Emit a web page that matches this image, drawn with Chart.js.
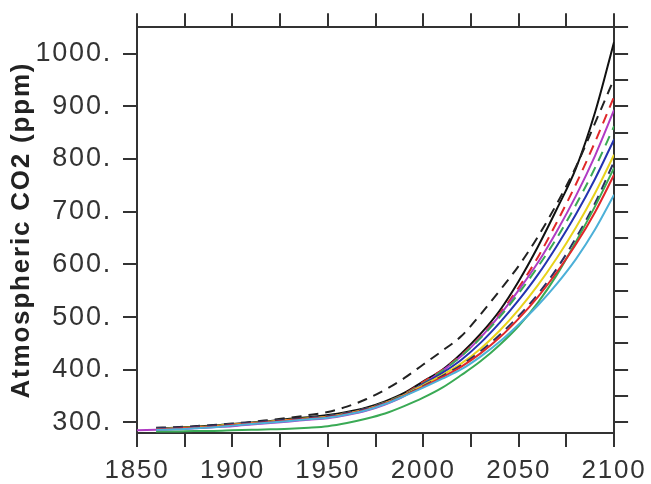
<!DOCTYPE html>
<html>
<head>
<meta charset="utf-8">
<script src="https://cdn.jsdelivr.net/npm/chart.js@4.4.1/dist/chart.umd.min.js"></script>
<style>
  body { margin: 0; background: #fff; }
  #wrap { width: 651px; height: 484px; }
</style>
</head>
<body>
<div id="wrap"><canvas id="co2Chart" width="651" height="484"></canvas></div>
<script>
// years sampled every decade
const years = [1850, 1860, 1870, 1880, 1890, 1900, 1910, 1920, 1930, 1940, 1950, 1960, 1970,
               1980, 1990, 2000, 2010, 2020, 2030, 2040, 2050, 2060, 2070, 2080, 2090, 2100];

// CO2 (ppm) per model run
const blackSolid  = [null, 289, 290, 292, 294, 297, 300, 303, 307, 310, 314, 320, 328, 340, 356, 378, 400, 431, 468, 512, 568, 633, 705, 782, 888, 1022];
const blackDashed = [null, 290, 291, 293, 295, 298, 301, 305, 309, 314, 320, 330, 344, 362, 384, 410, 436, 464, 505, 550, 597, 652, 715, 785, 868, 952];
const redDashed   = [null, 288, 289, 291, 293, 296, 299, 302, 305, 308, 312, 318, 326, 338, 354, 377, 400, 428, 463, 506, 556, 613, 680, 752, 832, 918];
const magenta     = [285, 286, 287, 289, 291, 293, 296, 299, 302, 305, 308, 314, 322, 334, 350, 373, 398, 426, 461, 503, 551, 603, 663, 730, 806, 893];
const greenDashed = [null, 288, 289, 291, 293, 296, 299, 302, 305, 308, 312, 318, 326, 338, 353, 374, 398, 426, 460, 500, 545, 595, 650, 713, 783, 862];
const blue        = [null, 288, 289, 290, 292, 295, 298, 301, 304, 307, 311, 317, 325, 337, 352, 373, 394, 419, 451, 489, 532, 580, 635, 695, 762, 837];
const yellow      = [null, 288, 289, 291, 293, 296, 299, 302, 305, 308, 311, 317, 325, 337, 352, 371, 390, 412, 440, 474, 514, 560, 612, 670, 735, 808];
const navyDashed  = [null, 289, 290, 292, 294, 297, 300, 303, 306, 309, 312, 318, 326, 337, 351, 369, 388, 409, 435, 466, 502, 543, 592, 650, 716, 795];
const green       = [null, 283, 283, 284, 284, 285, 286, 287, 288, 290, 293, 299, 307, 317, 331, 347, 366, 390, 416, 447, 483, 527, 580, 643, 710, 783];
const red         = [null, 287, 288, 290, 292, 295, 298, 301, 304, 307, 310, 316, 324, 336, 351, 368, 386, 406, 431, 461, 497, 538, 585, 638, 699, 770];
const cyan        = [null, 286, 287, 289, 291, 294, 297, 300, 303, 306, 309, 315, 323, 335, 350, 366, 383, 401, 425, 453, 486, 522, 563, 610, 666, 732];

const xTicks = [1850, 1900, 1950, 2000, 2050, 2100];
const yTicks = [300, 400, 500, 600, 700, 800, 900, 1000];

const toPts = arr => years.map((y, i) => ({ x: y, y: arr[i] }));

const line = (label, arr, color, dashed) => ({
  label: label,
  data: toPts(arr),
  borderColor: color,
  borderWidth: 2,
  borderDash: dashed ? [10, 7] : [],
  pointRadius: 0,
  fill: false,
  cubicInterpolationMode: 'monotone'
});

const axisColor = '#333';
const fam = 'Liberation Sans, Arial, sans-serif';

// wider letter spacing like the original plot font
const spacing = {
  id: 'spacing',
  beforeDraw: chart => { chart.ctx.letterSpacing = '1.8px'; },
  afterDraw: chart => { chart.ctx.letterSpacing = '0px'; }
};

const ctx = document.getElementById('co2Chart').getContext('2d');
let myChart = new Chart(ctx, {
  type: 'line',
  data: {
    datasets: [
      line('cyan', cyan, '#4cb0d8', false),
      line('red', red, '#e0282a', false),
      line('green', green, '#3aaa55', false),
      line('navy dashed', navyDashed, '#2a3060', true),
      line('yellow', yellow, '#e8d21c', false),
      line('blue', blue, '#2433b0', false),
      line('green dashed', greenDashed, '#3aaa55', true),
      line('magenta', magenta, '#b03cc4', false),
      line('red dashed', redDashed, '#e0282a', true),
      line('black dashed', blackDashed, '#222', true),
      line('black', blackSolid, '#111', false)
    ]
  },
  plugins: [spacing],
  options: {
    responsive: false,
    animation: false,
    layout: { padding: 0 },
    plugins: { legend: { display: false }, tooltip: { enabled: false } },
    scales: {
      x: {
        type: 'linear', position: 'bottom', min: 1850, max: 2100,
        ticks: {
          stepSize: 25, autoSkip: false, maxRotation: 0, padding: 8,
          font: { family: fam, size: 26 }, color: axisColor,
          callback: v => xTicks.includes(v) ? String(v) : ''
        },
        grid: { drawOnChartArea: false, tickLength: 14, color: axisColor, lineWidth: 2 },
        border: { color: axisColor, width: 2 },
        afterFit: s => { s.height = 51; }
      },
      xTop: {
        type: 'linear', position: 'top', min: 1850, max: 2100,
        ticks: { stepSize: 25, autoSkip: false, callback: () => '' },
        grid: { drawOnChartArea: false, tickLength: 14, color: axisColor, lineWidth: 2 },
        border: { color: axisColor, width: 2 },
        afterFit: s => { s.height = 27; }
      },
      y: {
        position: 'left', min: 280, max: 1050,
        ticks: {
          stepSize: 50, includeBounds: false, padding: 11,
          font: { family: fam, size: 27 }, color: axisColor,
          callback: v => yTicks.includes(v) ? v + '.' : ''
        },
        title: {
          display: true, text: 'Atmospheric CO2 (ppm)', color: '#222',
          font: { family: fam, size: 26, weight: 'bold' },
          padding: { top: 6, bottom: 0 }
        },
        grid: { drawOnChartArea: false, tickLength: 14, color: axisColor, lineWidth: 2 },
        border: { color: axisColor, width: 2 },
        afterFit: s => { s.width = 137; }
      },
      yRight: {
        position: 'right', min: 280, max: 1050,
        ticks: { stepSize: 50, includeBounds: false, callback: () => '' },
        grid: { drawOnChartArea: false, tickLength: 14, color: axisColor, lineWidth: 2 },
        border: { color: axisColor, width: 2 },
        afterFit: s => { s.width = 34; }
      }
    }
  }
});
</script>
</body>
</html>
